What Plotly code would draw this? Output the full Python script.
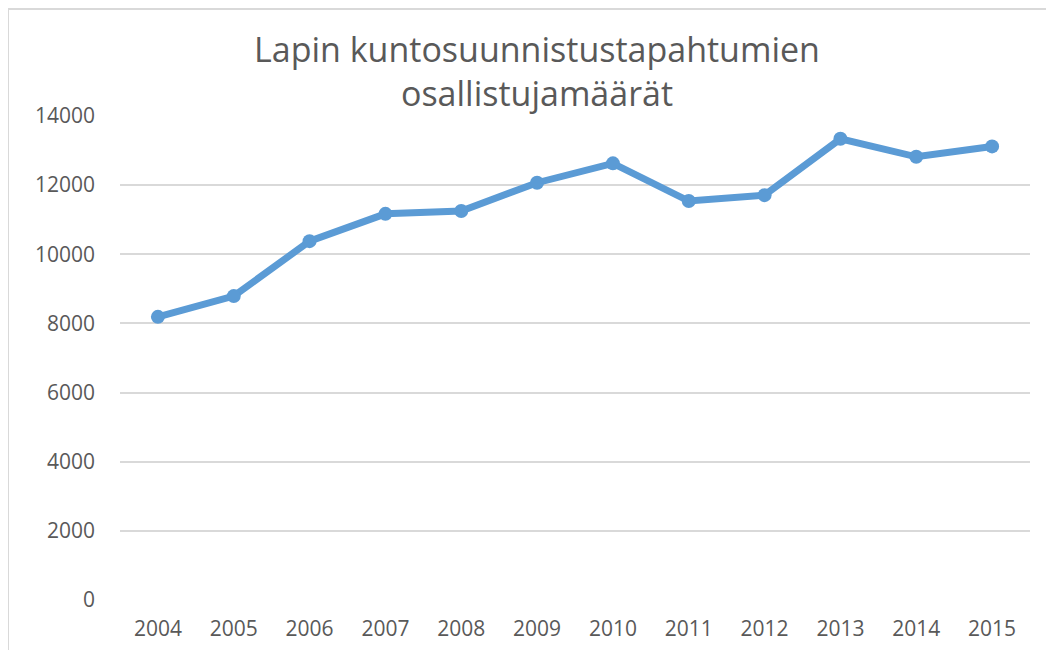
import plotly.graph_objects as go

years = ["2004", "2005", "2006", "2007", "2008", "2009", "2010", "2011", "2012", "2013", "2014", "2015"]
participants = [8190, 8790, 10380, 11170, 11250, 12070, 12630, 11540, 11710, 13340, 12820, 13120]
y_ticks = [0, 2000, 4000, 6000, 8000, 10000, 12000, 14000]

FONT = "Open Sans, Lato, sans-serif"
GREY = "#595959"

fig = go.Figure()
fig.add_trace(go.Scatter(
    x=years, y=participants, mode="lines+markers",
    line=dict(color="#5B9BD5", width=7),
    marker=dict(color="#5B9BD5", size=14, symbol="circle"),
    showlegend=False, cliponaxis=False,
))

L, R, T, B = 112, 32, 108, 58
PW = 1054 - L - R
PH = 650 - T - B

fig.update_layout(
    width=1054, height=650,
    margin=dict(l=L, r=R, t=T, b=B),
    paper_bgcolor="white", plot_bgcolor="white",
    font=dict(family=FONT, color=GREY),
    title=dict(
        text="Lapin kuntosuunnistustapahtumien<br>osallistujamäärät",
        x=529 / 1054, xref="container", xanchor="center",
        y=1 - 54 / 650, yanchor="middle",
        font=dict(size=34, color=GREY, family=FONT),
    ),
    xaxis=dict(
        type="category", range=[-0.5, 11.5],
        showgrid=False, zeroline=False, showline=False,
        ticks="", ticklabelstandoff=14, tickfont=dict(size=21, color=GREY),
    ),
    yaxis=dict(
        range=[0, 14000], tickvals=y_ticks, ticktext=[str(v) for v in y_ticks],
        showgrid=True, gridcolor="#D9D9D9", gridwidth=2,
        zeroline=False, showline=False, ticks="", ticklabelstandoff=24,
        tickfont=dict(size=21, color=GREY),
    ),
    shapes=[dict(
        type="rect", xref="paper", yref="paper",
        x0=-L / PW, x1=1.2, y0=-0.3, y1=1 + (T - 1) / PH,
        line=dict(color="#D9D9D9", width=2), fillcolor="rgba(0,0,0,0)", layer="below",
    )],
)

fig.write_html("out.html")
